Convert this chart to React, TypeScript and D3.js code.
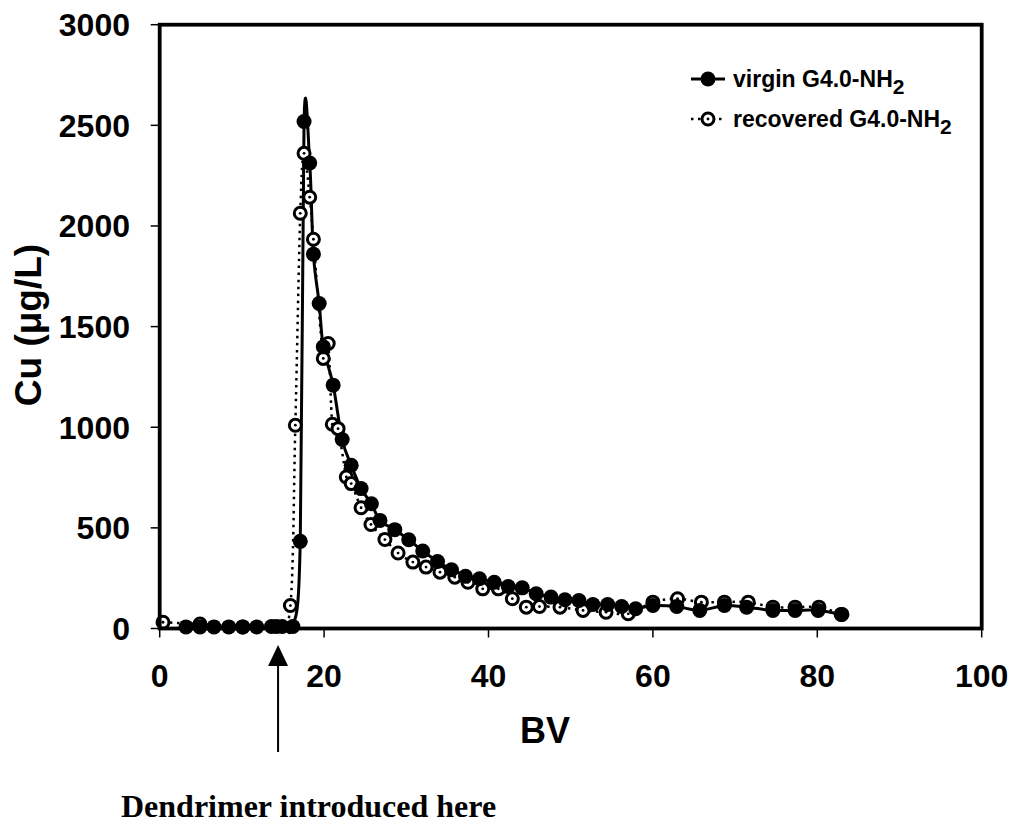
import React from "react";
import * as d3 from "d3";

const virginBV = [3.2, 4.9, 6.6, 8.4, 10.1, 11.8, 13.6, 14.9, 16.2, 17.1, 17.56, 18.25, 18.7, 19.4, 19.9, 21.1, 22.2, 23.3, 24.5, 25.75, 26.8, 28.6, 30.3, 32.0, 33.8, 35.5, 37.2, 38.9, 40.7, 42.4, 44.1, 45.8, 47.6, 49.3, 51.0, 52.7, 54.5, 56.2, 57.9, 60.0, 62.9, 65.7, 68.7, 71.4, 74.6, 77.3, 80.1, 82.9];
const virginCu = [8, 8, 8, 8, 8, 8, 10, 10, 10, 433, 2519, 2313, 1860, 1615, 1400, 1209, 939, 811, 695, 620, 537, 491, 441, 385, 333, 292, 259, 247, 230, 209, 202, 173, 156, 143, 139, 119, 119, 109, 98, 114, 109, 90, 114, 106, 90, 90, 90, 70];

const recoveredBV = [0.4, 4.9, 10.1, 14.2, 15.9, 16.5, 17.1, 17.56, 18.25, 18.7, 19.9, 20.5, 21.0, 21.7, 22.7, 23.3, 24.5, 25.7, 27.4, 29.0, 30.8, 32.4, 34.1, 35.9, 37.5, 39.3, 41.2, 42.9, 44.6, 46.2, 48.7, 51.5, 54.3, 57.0, 60.0, 63.0, 65.9, 68.7, 71.6, 74.6, 77.3, 80.2, 83.0];
const recoveredCu = [31, 22, 8, 10, 114, 1010, 2063, 2361, 2143, 1934, 1342, 1416, 1015, 993, 753, 720, 600, 517, 442, 375, 330, 305, 280, 255, 230, 197, 197, 148, 106, 109, 106, 90, 81, 73, 131, 148, 131, 131, 131, 106, 106, 106, 70];

const xTicks = [0, 20, 40, 60, 80, 100];
const yTicks = [0, 500, 1000, 1500, 2000, 2500, 3000];
const arrowBV = 14.4;

export default function App() {
  const x = d3.scaleLinear().domain([0, 100]).range([159.7, 981.7]);
  const y = d3.scaleLinear().domain([0, 3000]).range([628.5, 24.7]);
  const line = d3
    .line<[number, number]>()
    .x((d) => x(d[0]))
    .y((d) => y(d[1]))
    .curve(d3.curveCardinal.tension(0));

  const vData: [number, number][] = virginBV.map((b, i) => [b, virginCu[i]]);
  const rData: [number, number][] = recoveredBV.map((b, i) => [b, recoveredCu[i]]);

  const font = "'Liberation Sans', Arial, sans-serif";
  const ax = x(arrowBV);
  const legX = 733;
  const leg1Y = 87;
  const leg2Y = 127;

  return (
    <svg width={1013} height={825} style={{ position: "absolute", left: 0, top: 0, background: "#fff" }}>
      <rect width={1013} height={825} fill="#fff" />
      {/* lines */}
      <path d={line(vData) || ""} fill="none" stroke="#000" strokeWidth={3} />
      <path d={line(rData) || ""} fill="none" stroke="#000" strokeWidth={2.5} strokeDasharray="2.5 4.5" />
      {/* recovered markers */}
      {rData.map((d, i) => (
        <g key={"r" + i}>
          <circle cx={x(d[0])} cy={y(d[1])} r={6} fill="#fff" stroke="#000" strokeWidth={3} />
          <circle cx={x(d[0])} cy={y(d[1])} r={1.4} fill="#000" />
        </g>
      ))}
      {/* virgin markers */}
      {vData.map((d, i) => (
        <circle key={"v" + i} cx={x(d[0])} cy={y(d[1])} r={7.5} fill="#000" />
      ))}
      {/* frame */}
      <rect x={x(0)} y={y(3000)} width={x(100) - x(0)} height={y(0) - y(3000)} fill="none" stroke="#000" strokeWidth={3.8} />
      {yTicks.map((t) => (
        <g key={"yt" + t}>
          <line x1={x(0) - 9} x2={x(0)} y1={y(t)} y2={y(t)} stroke="#000" strokeWidth={1.5} />
          <text x={130} y={y(t)} dy="0.36em" textAnchor="end" fontFamily={font} fontWeight="bold" fontSize={32}>
            {t}
          </text>
        </g>
      ))}
      {xTicks.map((t) => (
        <g key={"xt" + t}>
          <line x1={x(t)} x2={x(t)} y1={y(0)} y2={y(0) + 9} stroke="#000" strokeWidth={1.5} />
          <text x={x(t)} y={687} textAnchor="middle" fontFamily={font} fontWeight="bold" fontSize={32}>
            {t}
          </text>
        </g>
      ))}
      <text x={545} y={743} textAnchor="middle" fontFamily={font} fontWeight="bold" fontSize={36}>
        BV
      </text>
      <text transform="translate(41,325) rotate(-90)" textAnchor="middle" fontFamily={font} fontWeight="bold" fontSize={37}>
        Cu (μg/L)
      </text>
      {/* legend */}
      <line x1={legX - 42} x2={legX - 8} y1={leg1Y - 8} y2={leg1Y - 8} stroke="#000" strokeWidth={3} />
      <circle cx={legX - 25} cy={leg1Y - 8} r={7.5} fill="#000" />
      <text x={legX} y={leg1Y} fontFamily={font} fontWeight="bold" fontSize={23}>
        virgin G4.0-NH<tspan dy={7} fontSize={21}>2</tspan>
      </text>
      <line x1={legX - 42} x2={legX - 8} y1={leg2Y - 8} y2={leg2Y - 8} stroke="#000" strokeWidth={2.5} strokeDasharray="2.5 4.5" />
      <circle cx={legX - 25} cy={leg2Y - 8} r={6} fill="#fff" stroke="#000" strokeWidth={3} />
      <circle cx={legX - 25} cy={leg2Y - 8} r={1.4} fill="#000" />
      <text x={legX} y={leg2Y} fontFamily={font} fontWeight="bold" fontSize={23}>
        recovered G4.0-NH<tspan dy={7} fontSize={21}>2</tspan>
      </text>
      {/* annotation arrow */}
      <line x1={ax} x2={ax} y1={752} y2={662} stroke="#000" strokeWidth={2} />
      <polygon points={`${ax},645 ${ax - 10},666 ${ax + 10},666`} fill="#000" />
      <text x={121} y={817} fontFamily="'Liberation Serif', 'Times New Roman', serif" fontWeight="bold" fontSize={32}>
        Dendrimer introduced here
      </text>
    </svg>
  );
}
